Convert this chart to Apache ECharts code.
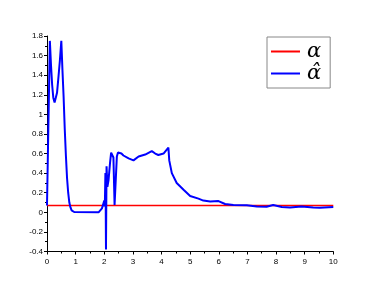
<!DOCTYPE html>
<html>
<head>
<meta charset="utf-8">
<script src="https://cdn.jsdelivr.net/npm/echarts@6/dist/echarts.min.js"></script>
<style>html,body{margin:0;padding:0;background:#fff}#c{width:382px;height:288px}</style>
</head>
<body>
<div id="c"></div>
<script>
var seriesNames = ['α', 'α\u0302'];
var alphaValue = 0.07;
var alphaX = [0, 10];
var hatX = [0, 0.02, 0.1, 0.14, 0.18, 0.22, 0.265, 0.31, 0.35, 0.4, 0.45, 0.5,
  0.54, 0.58, 0.62, 0.66, 0.70, 0.74, 0.78, 0.82, 0.86, 0.9, 0.95, 1.0, 1.8, 1.86, 1.92, 1.97, 2.0, 2.02,
  2.04, 2.05, 2.06, 2.08, 2.11, 2.15, 2.2, 2.24, 2.28, 2.32, 2.36, 2.40, 2.44, 2.48, 2.52, 2.6, 2.67,
  2.85, 3.02, 3.2, 3.43, 3.66, 3.78, 3.89, 4.07, 4.24, 4.27, 4.36, 4.53, 4.77, 5.0, 5.29, 5.46,
  5.7, 5.99, 6.22, 6.51, 6.98, 7.33, 7.67, 7.9, 8.2, 8.49, 8.89, 9.3, 9.53, 10];
var hatY = [0.07, 0.09, 1.75, 1.5, 1.3, 1.17, 1.12, 1.14, 1.22, 1.38, 1.55, 1.75,
  1.45, 1.18, 0.85, 0.58, 0.35, 0.2, 0.1, 0.05, 0.02, 0.01, 0.003, 0.0, 0.0, 0.01, 0.04, 0.09, 0.12, 0.06,
  0.40, 0.12, -0.38, 0.47, 0.26, 0.33, 0.5, 0.61, 0.59, 0.56, 0.075, 0.075, 0.57, 0.61, 0.62, 0.6, 0.58,
  0.55, 0.53, 0.57, 0.59, 0.625, 0.60, 0.585, 0.60, 0.66, 0.53, 0.40, 0.30, 0.23, 0.166, 0.14, 0.12,
  0.11, 0.115, 0.085, 0.075, 0.071, 0.06, 0.057, 0.075, 0.054, 0.05, 0.06, 0.05, 0.047, 0.055];
var xTicks = {min: 0, max: 10, interval: 1};
var yTicks = {min: -0.4, max: 1.8, interval: 0.2};

var alphaData = alphaX.map(function (x) { return [x, alphaValue]; });
var hatData = hatX.map(function (x, i) { return [x, hatY[i]]; });

var chart = echarts.init(document.getElementById('c'), null, {renderer: 'canvas'});
var axisCommon = {
  axisLine: {show: true, onZero: false, lineStyle: {color: '#000', width: 1}},
  axisTick: {show: true, inside: false, length: 3, lineStyle: {color: '#000'}},
  minorTick: {show: true, splitNumber: 2, length: 2, lineStyle: {color: '#000'}},
  splitLine: {show: false},
  axisLabel: {color: '#000', fontSize: 8, fontFamily: 'Liberation Sans'}
};
chart.setOption({
  animation: false,
  backgroundColor: '#fff',
  grid: {left: 47, right: 48.7, top: 36, bottom: 36.5, containLabel: false},
  xAxis: Object.assign({type: 'value', min: xTicks.min, max: xTicks.max, interval: xTicks.interval}, axisCommon,
    {axisLabel: Object.assign({}, axisCommon.axisLabel, {margin: 6})}),
  yAxis: Object.assign({type: 'value', min: yTicks.min, max: yTicks.max, interval: yTicks.interval}, axisCommon,
    {axisLabel: Object.assign({}, axisCommon.axisLabel, {margin: 4})}),
  legend: {
    orient: 'vertical', left: 267, top: 37,
    borderColor: '#888', borderWidth: 1,
    padding: [4, 9, 4, 4],
    itemWidth: 29, itemHeight: 2, itemGap: 1,
    icon: 'rect',
    textStyle: {fontSize: 21, fontStyle: 'italic', fontFamily: 'DejaVu Serif', color: '#000', padding: [0, 0, 0, 2]},
    data: seriesNames
  },
  series: [
    {name: seriesNames[0], type: 'line', data: alphaData, showSymbol: false, symbol: 'none',
      lineStyle: {color: '#ff0000', width: 1.5}, itemStyle: {color: '#ff0000'}},
    {name: seriesNames[1], type: 'line', data: hatData, showSymbol: false, symbol: 'none',
      lineStyle: {color: '#0000ff', width: 2}, itemStyle: {color: '#0000ff'}}
  ]
});
</script>
</body>
</html>
